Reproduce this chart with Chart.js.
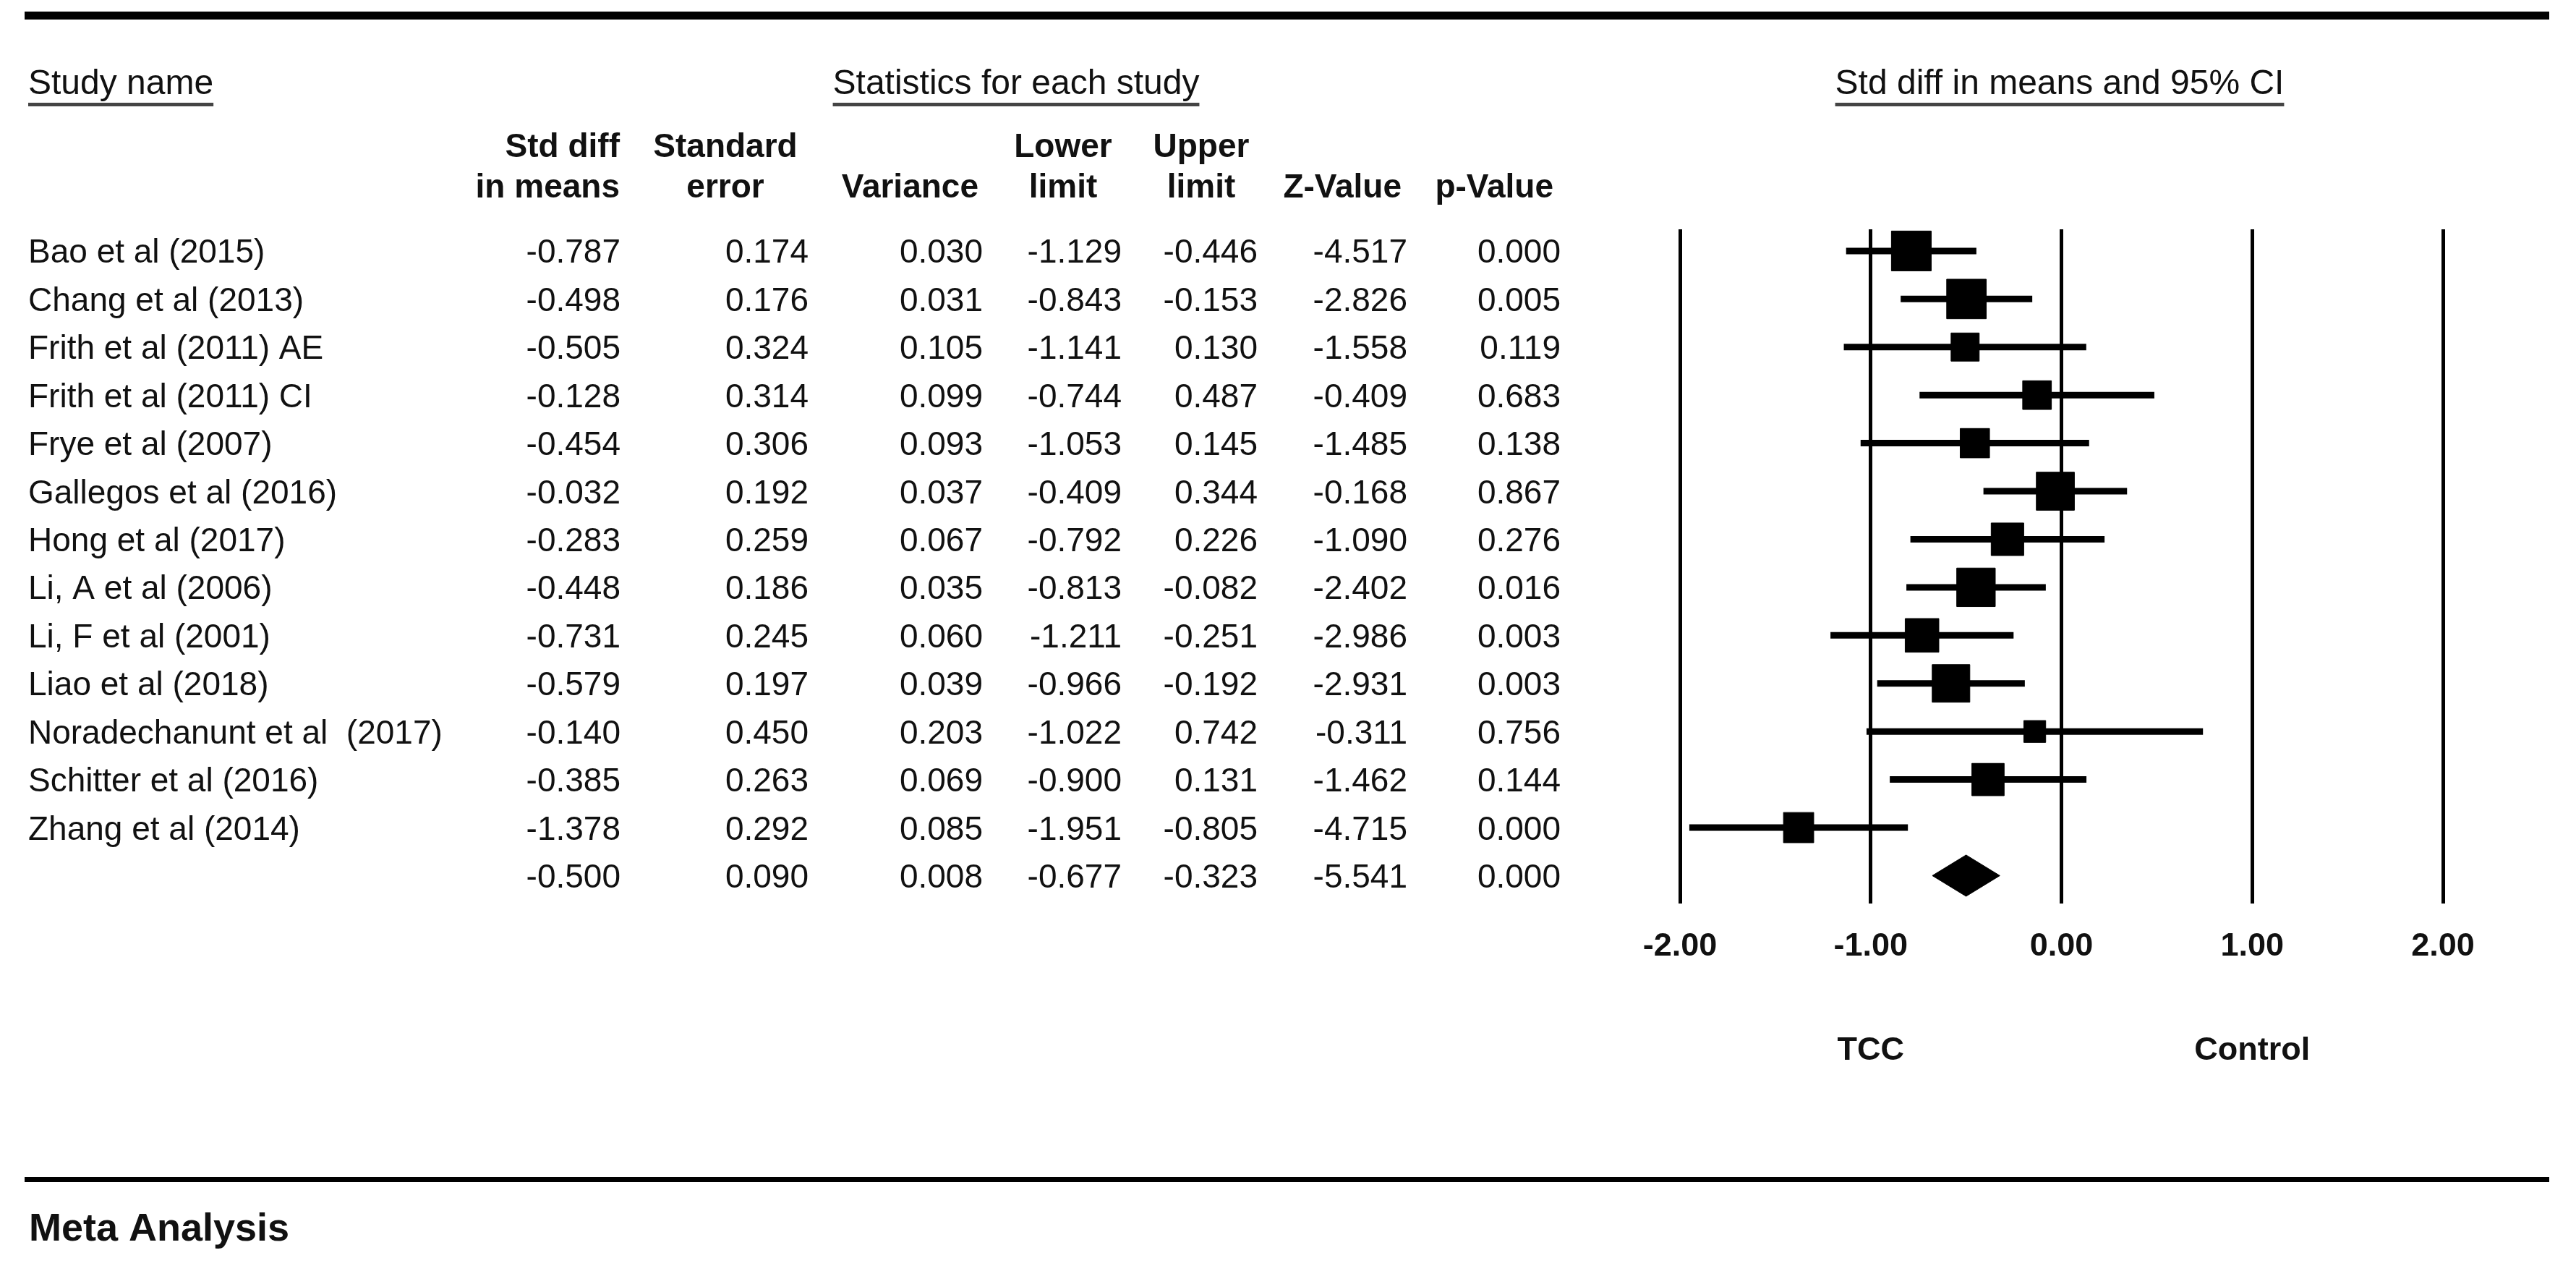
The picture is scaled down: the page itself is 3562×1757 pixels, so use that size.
<!DOCTYPE html>
<html>
<head>
<meta charset="utf-8">
<style>
  html, body { margin: 0; padding: 0; background: #fff; }
  canvas { display: block; }
</style>
<script src="https://cdn.jsdelivr.net/npm/chart.js"></script>
</head>
<body>
<canvas id="forest" width="3562" height="1757" style="width:3562px;height:1757px"></canvas>
<script>
// Forest plot: TCC vs control, std diff in means

const studies = [
    'Bao et al (2015)', 'Chang et al (2013)', 'Frith et al (2011) AE', 'Frith et al (2011) CI',
    'Frye et al (2007)', 'Gallegos et al (2016)', 'Hong et al (2017)', 'Li, A et al (2006)',
    'Li, F et al (2001)', 'Liao et al (2018)', 'Noradechanunt et al  (2017)', 'Schitter et al (2016)',
    'Zhang et al (2014)'
];
const stdDiff  = [-0.787, -0.498, -0.505, -0.128, -0.454, -0.032, -0.283, -0.448, -0.731, -0.579, -0.140, -0.385, -1.378];
const stdErr   = [0.174, 0.176, 0.324, 0.314, 0.306, 0.192, 0.259, 0.186, 0.245, 0.197, 0.450, 0.263, 0.292];
const variance = [0.030, 0.031, 0.105, 0.099, 0.093, 0.037, 0.067, 0.035, 0.060, 0.039, 0.203, 0.069, 0.085];
const lower    = [-1.129, -0.843, -1.141, -0.744, -1.053, -0.409, -0.792, -0.813, -1.211, -0.966, -1.022, -0.900, -1.951];
const upper    = [-0.446, -0.153, 0.130, 0.487, 0.145, 0.344, 0.226, -0.082, -0.251, -0.192, 0.742, 0.131, -0.805];
const zValue   = [-4.517, -2.826, -1.558, -0.409, -1.485, -0.168, -1.090, -2.402, -2.986, -2.931, -0.311, -1.462, -4.715];
const pValue   = [0.000, 0.005, 0.119, 0.683, 0.138, 0.867, 0.276, 0.016, 0.003, 0.003, 0.756, 0.144, 0.000];
// pooled row: std diff, SE, variance, lower, upper, Z, p
const summary  = [-0.500, 0.090, 0.008, -0.677, -0.323, -5.541, 0.000];
const xTicks   = [-2, -1, 0, 1, 2];
const tau2     = 0.045; // between-study variance, used for box weights

const FONT = '"Liberation Sans", Arial, sans-serif';
const summaryRow = studies.length;

// box side ~ sqrt(random-effects weight)
function boxRadius(i) {
    const w = 1 / (variance[i] + tau2);
    return 10.66 * Math.sqrt(w);
}

const datasets = [];
studies.forEach((s, i) => {
    datasets.push({
        type: 'line',
        data: [{ x: lower[i], y: i }, { x: upper[i], y: i }],
        showLine: true,
        borderColor: '#000',
        borderWidth: 9,
        pointRadius: 0
    });
});
datasets.push({
    type: 'scatter',
    data: stdDiff.map((m, i) => ({ x: m, y: i })),
    pointStyle: 'rect',
    pointRadius: ctx => boxRadius(ctx.dataIndex),
    pointHoverRadius: ctx => boxRadius(ctx.dataIndex),
    backgroundColor: '#000',
    borderColor: '#000',
    borderWidth: 1
});
const dh = 0.43;
datasets.push({
    type: 'line',
    data: [
        { x: summary[3], y: summaryRow },
        { x: summary[0], y: summaryRow - dh },
        { x: summary[4], y: summaryRow },
        { x: summary[0], y: summaryRow + dh },
        { x: summary[3], y: summaryRow }
    ],
    showLine: true,
    fill: 'shape',
    backgroundColor: '#000',
    borderColor: '#000',
    borderWidth: 1,
    tension: 0,
    pointRadius: 0
});

function fmt(v) { return v.toFixed(3); }

const tablePlugin = {
    id: 'table',
    beforeDraw(chart) {
        const c = chart.ctx;
        c.save();
        c.fillStyle = '#fff';
        c.fillRect(0, 0, chart.width, chart.height);
        c.restore();
    },
    afterDraw(chart) {
        const c = chart.ctx;
        const y = chart.scales.y;
        const x = chart.scales.x;
        c.save();
        // rules
        c.fillStyle = '#000';
        c.fillRect(34, 16, 3491, 11);
        c.fillRect(34, 1627, 3491, 7);

        // section titles, underlined
        c.fillStyle = '#111';
        c.font = '48px ' + FONT;
        c.textBaseline = 'alphabetic';
        const titles = [
            ['Study name', 'left', 39],
            ['Statistics for each study', 'center', 1405],
            ['Std diff in means and 95% CI', 'center', 2848]
        ];
        titles.forEach(([t, align, tx]) => {
            c.textAlign = align;
            c.fillText(t, tx, 130);
            const w = c.measureText(t).width;
            const left = align === 'left' ? tx : tx - w / 2;
            c.fillStyle = '#444';
            c.fillRect(left, 142, w, 5);
            c.fillStyle = '#111';
        });

        // column headers
        c.font = 'bold 46px ' + FONT;
        const heads = [
            ['Std diff', 'in means', 'right', 857],
            ['Standard', 'error', 'center', 1003],
            ['', 'Variance', 'right', 1353],
            ['Lower', 'limit', 'center', 1470],
            ['Upper', 'limit', 'center', 1661],
            ['', 'Z-Value', 'right', 1938],
            ['', 'p-Value', 'right', 2148]
        ];
        heads.forEach(([l1, l2, align, hx]) => {
            c.textAlign = align;
            if (l1) c.fillText(l1, hx, 217);
            c.fillText(l2, hx, 273);
        });

        // table rows
        c.font = '46px ' + FONT;
        const cols = [858, 1118, 1359, 1551, 1739, 1946, 2158];
        const base = v => y.getPixelForValue(v) + 16.5;
        studies.forEach((s, i) => {
            const by = base(i);
            c.textAlign = 'left';
            c.fillText(s, 39, by);
            c.textAlign = 'right';
            [stdDiff, stdErr, variance, lower, upper, zValue, pValue].forEach((arr, k) => {
                c.fillText(fmt(arr[i]), cols[k], by);
            });
        });
        c.textAlign = 'right';
        summary.forEach((v, k) => c.fillText(fmt(v), cols[k], base(summaryRow)));

        // favours labels
        c.font = 'bold 45px ' + FONT;
        c.textAlign = 'center';
        c.fillText('TCC', x.getPixelForValue(-1), 1465);
        c.fillText('Control', x.getPixelForValue(1), 1465);

        c.font = 'bold 54px ' + FONT;
        c.textAlign = 'left';
        c.fillText('Meta Analysis', 40, 1715);
        c.restore();
    }
};

new Chart(document.getElementById('forest').getContext('2d'), {
    type: 'scatter',
    data: { datasets: datasets },
    options: {
        responsive: false,
        devicePixelRatio: 1,
        animation: false,
        events: [],
        layout: { padding: { left: 2323, right: 184, top: 317, bottom: 0 } },
        plugins: { legend: { display: false }, tooltip: { enabled: false } },
        scales: {
            x: {
                type: 'linear',
                min: -2,
                max: 2,
                afterBuildTicks: s => { s.ticks = xTicks.map(v => ({ value: v })); },
                afterFit: s => { s.height = 508; },
                grid: { color: '#000', lineWidth: 5, drawTicks: false },
                border: { display: false },
                ticks: {
                    padding: 33,
                    color: '#111',
                    font: { family: FONT, size: 45, weight: 'bold' },
                    callback: v => v.toFixed(2)
                }
            },
            y: {
                type: 'linear',
                min: -0.45,
                max: 13.58,
                reverse: true,
                display: false
            }
        }
    },
    plugins: [tablePlugin]
});
</script>
</body>
</html>
